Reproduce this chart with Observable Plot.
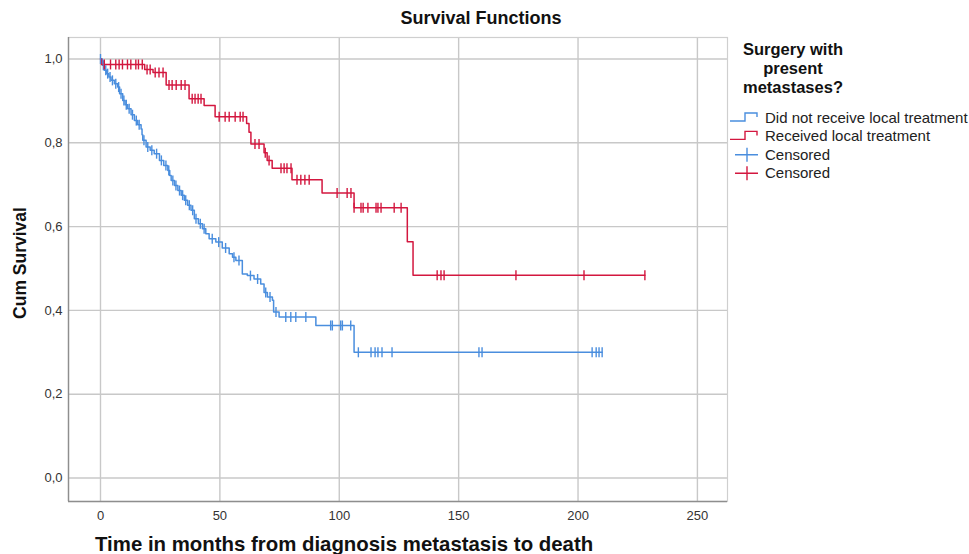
<!DOCTYPE html>
<html>
<head>
<meta charset="utf-8">
<script src="https://cdn.jsdelivr.net/npm/d3@7"></script>
<script src="https://cdn.jsdelivr.net/npm/@observablehq/plot@0.6"></script>
<style>
  body { margin: 0; background: #fff; }
  #chart { position: relative; width: 969px; height: 554px; overflow: hidden; background: #fff; }
  #chart svg { position: absolute; left: 0; top: 0; }
</style>
</head>
<body>
<div id="chart"></div>
<script>
// Axis ticks
const xTicks = [0, 50, 100, 150, 200, 250];
const yTicks = [0, 0.2, 0.4, 0.6, 0.8, 1.0];

// Group names
const groups = ["Did not receive local treatment", "Received local treatment"];

// Kaplan–Meier steps: event time (months) and cumulative survival after it
const blueTimes = [0, 0.8, 1.6, 2.6, 3.5, 4.4, 5.8, 7.2, 8.0, 9.3, 10.3, 11.4, 12.8, 14.2, 15.6, 17.0, 17.4, 17.7,
  19.1, 20.8, 22.5, 24.7, 26.5, 28.2, 29.0, 29.6, 31.0, 32.4, 33.8, 35.1, 36.5, 37.9, 39.3, 41.0, 42.7, 44.1,
  45.5, 48.3, 51.0, 53.9, 55.3, 56.7, 59.4, 61.5, 64.3, 67.1, 68.5, 69.9, 72.0, 72.5, 74.8, 90.2, 106.2];
const blueSurv = [1.0, 0.985, 0.973, 0.965, 0.957, 0.949, 0.941, 0.933, 0.917, 0.901, 0.891, 0.881, 0.867, 0.853,
  0.843, 0.833, 0.819, 0.806, 0.790, 0.782, 0.774, 0.758, 0.746, 0.734, 0.722, 0.710, 0.698, 0.686, 0.675, 0.663,
  0.651, 0.639, 0.619, 0.607, 0.595, 0.583, 0.571, 0.563, 0.549, 0.535, 0.527, 0.519, 0.487, 0.483, 0.475, 0.463,
  0.443, 0.432, 0.424, 0.396, 0.384, 0.364, 0.300];
// Censoring times (months)
const blueCensored = [0, 1.2, 2.2, 3.0, 4.0, 5.0, 6.4, 7.6, 8.6, 9.8, 10.8, 12.0, 13.4, 15.0, 16.2, 18.2, 19.8,
  21.5, 23.5, 25.5, 27.4, 28.6, 30.3, 31.6, 33.1, 34.4, 35.7, 37.2, 38.6, 40.0, 41.8, 43.4, 46.8, 49.5, 52.4,
  55.9, 58.0, 62.8, 65.8, 69.2, 71.0, 73.5, 77.6, 79.7, 81.8, 86.0, 96.4, 97.1, 100.6, 101.3, 104.8,
  108.0, 113.3, 115.0, 116.2, 117.9, 122.1, 158.5, 159.8, 205.9, 207.6, 208.8, 210.1];

const redTimes = [0, 0.4, 18.5, 22.0, 27.5, 37.1, 43.4, 48.0, 61.2, 62.2, 63.0, 68.5, 69.8, 71.9, 80.2, 92.8,
  106.2, 128.5, 130.9];
const redSurv = [1.0, 0.987, 0.975, 0.968, 0.938, 0.905, 0.889, 0.862, 0.846, 0.825, 0.797, 0.776, 0.758, 0.739,
  0.712, 0.680, 0.645, 0.564, 0.484];
const redCensored = [1.6, 4.2, 6.4, 7.8, 9.2, 11.3, 12.7, 14.8, 15.9, 17.5, 19.5, 20.8, 22.9, 24.5, 26.2,
  28.7, 30.0, 31.7, 33.8, 35.4, 38.4, 39.6, 40.9, 42.1, 49.7, 52.2, 53.9, 56.4, 58.5, 59.7, 64.7, 66.4, 69.0,
  70.6, 75.6, 76.9, 78.1, 79.8, 82.3, 83.9, 85.6, 87.4, 99.1, 103.3, 104.9, 106.2, 109.1, 110.0, 112.0, 115.4,
  116.2, 117.5, 123.0, 125.9, 141.0, 142.6, 143.9, 174.0, 202.5, 228.0];

const colors = ["#4a8ede", "#d3173f"];

// Survival value of a step function at time t (right-continuous)
function survAt(times, surv, t) {
  let v = surv[0];
  for (let i = 0; i < times.length; i++) if (times[i] <= t) v = surv[i];
  return v;
}

function stepTable(times, surv, censored, group) {
  const rows = times.map((t, i) => ({ time: t, surv: surv[i], group }));
  const end = Math.max(times[times.length - 1], ...censored);
  rows.push({ time: end, surv: surv[surv.length - 1], group });
  return rows;
}
function censorTable(times, surv, censored, group) {
  return censored.map(t => ({ time: t, surv: survAt(times, surv, t), group }));
}

const steps = [
  stepTable(blueTimes, blueSurv, blueCensored, groups[0]),
  stepTable(redTimes, redSurv, redCensored, groups[1])
];
const censors = [
  censorTable(blueTimes, blueSurv, blueCensored, groups[0]),
  censorTable(redTimes, redSurv, redCensored, groups[1])
];

// Vertical bar symbol for censoring marks
const vbar = {
  draw(context, size) {
    const r = Math.sqrt(size / Math.PI);
    context.moveTo(0, -r);
    context.lineTo(0, r);
  }
};

const fmt = d => d.toFixed(1).replace(".", ",");
const xDomain = [-13.4, 262.6];
const yDomain = [-0.0561, 1.0513];

const plot = Plot.plot({
  width: 969,
  height: 554,
  marginLeft: 68,
  marginRight: 242,
  marginTop: 37,
  marginBottom: 53,
  x: { domain: xDomain },
  y: { domain: yDomain },
  style: { fontFamily: "Arial, 'Liberation Sans', sans-serif", fontSize: "13px", color: "#333", background: "white" },
  marks: [
    Plot.gridX(xTicks, { stroke: "#c8c8c8", strokeOpacity: 1, strokeWidth: 1.4 }),
    Plot.gridY(yTicks, { stroke: "#c8c8c8", strokeOpacity: 1, strokeWidth: 1.4 }),
    Plot.frame({ stroke: "#cfcfcf", strokeWidth: 1.2 }),
    Plot.ruleX([xDomain[0]], { stroke: "#8e8e8e", strokeWidth: 1.4 }),
    Plot.ruleY([yDomain[0]], { stroke: "#8e8e8e", strokeWidth: 1.4 }),
    Plot.axisX({ ticks: xTicks, tickSize: 0, tickPadding: 9, label: null }),
    Plot.axisY({ ticks: yTicks, tickSize: 0, tickPadding: 6, tickFormat: fmt, label: null }),
    ...steps.map((d, i) => Plot.line(d, { x: "time", y: "surv", curve: "step-after", stroke: colors[i], strokeWidth: 1.5 })),
    ...censors.map((d, i) => Plot.dot(d, { x: "time", y: "surv", symbol: vbar, r: 5, stroke: colors[i], strokeWidth: 1.4 }))
  ]
});
document.getElementById("chart").appendChild(plot);

// Titles and legend
const svg = d3.select("#chart").append("svg").attr("width", 969).attr("height", 554)
  .style("font-family", "Arial, 'Liberation Sans', sans-serif");

svg.append("text").attr("x", 481).attr("y", 24).attr("text-anchor", "middle")
  .attr("font-size", 18).attr("font-weight", "bold").attr("fill", "#111").text("Survival Functions");
svg.append("text").attr("transform", "translate(26,263) rotate(-90)").attr("text-anchor", "middle")
  .attr("font-size", 17.5).attr("font-weight", "bold").attr("fill", "#111").text("Cum Survival");
svg.append("text").attr("x", 95).attr("y", 551)
  .attr("font-size", 20.4).attr("font-weight", "bold").attr("fill", "#111")
  .text("Time in months from diagnosis metastasis to death");

const legendTitle = ["Surgery with", "present", "metastases?"];
legendTitle.forEach((s, i) => svg.append("text").attr("x", 793).attr("y", 55 + i * 19)
  .attr("text-anchor", "middle").attr("font-size", 16.5).attr("font-weight", "bold").attr("fill", "#111").text(s));

const legendItems = [
  { label: groups[0], color: colors[0], kind: "step" },
  { label: groups[1], color: colors[1], kind: "step" },
  { label: "Censored", color: colors[0], kind: "censor" },
  { label: "Censored", color: colors[1], kind: "censor" }
];
legendItems.forEach((d, i) => {
  const cy = 118 + i * 18.4;
  if (d.kind === "step") {
    svg.append("path").attr("d", `M730,${cy + 3}H745V${cy - 5}H757V${cy - 1}`)
      .attr("fill", "none").attr("stroke", d.color).attr("stroke-width", 1.4);
  } else {
    svg.append("path").attr("d", `M735,${cy}H758M747,${cy - 7}V${cy + 7}`)
      .attr("fill", "none").attr("stroke", d.color).attr("stroke-width", 1.4);
  }
  svg.append("text").attr("x", 765).attr("y", cy + 5).attr("font-size", 15).attr("fill", "#222").text(d.label);
});
</script>
</body>
</html>
